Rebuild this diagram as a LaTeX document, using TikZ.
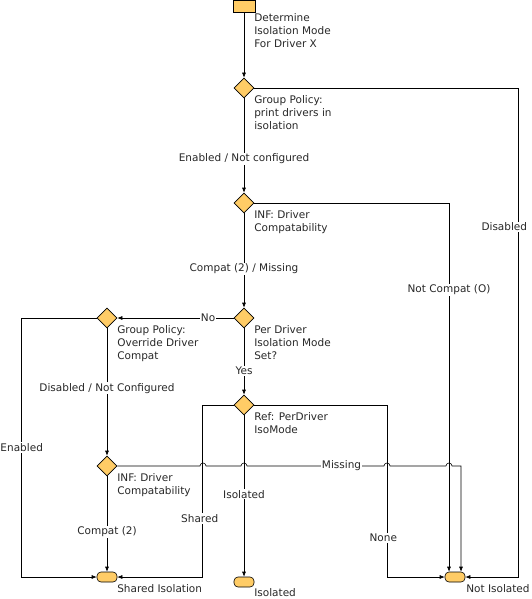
\documentclass[tikz,border=0pt]{standalone}
\usepackage{fontspec}
\setmainfont{DejaVu Sans}
\usetikzlibrary{shapes.geometric,arrows.meta,calc}
\definecolor{stepfill}{RGB}{255,204,102}
\definecolor{textgray}{RGB}{40,40,40}
\begin{document}
\begin{tikzpicture}
    [
        x=1pt, y=-1pt,
        every node/.style={font=\fontsize{10.5}{13}\selectfont, text=textgray},
        decision/.style={diamond, draw, fill=stepfill, minimum width=20pt, minimum height=20pt, inner sep=0pt},
        startbox/.style={rectangle, draw, fill=stepfill, minimum width=22pt, minimum height=12pt, inner sep=0pt},
        endbox/.style={rectangle, draw, fill=stepfill, rounded corners=4pt, minimum width=20pt, minimum height=10pt, inner sep=0pt},
        note/.style={anchor=north west, align=left, inner sep=0pt},
        lbl/.style={fill=white, inner sep=1pt},
        edge/.style={-{Latex[length=5pt,width=4pt]}, line width=0.6pt},
        line width=0.6pt,
    ]
    \useasboundingbox (0,0) rectangle (531,599);

    % steps
    \node (start) at (244,6)   [startbox] {};
    \node (d1) at (244,88)     [decision] {};
    \node (d2) at (244,203)    [decision] {};
    \node (d3) at (244,318)    [decision] {};
    \node (d4) at (244,405)    [decision] {};
    \node (gp) at (107,318)    [decision] {};
    \node (i2) at (107,466)    [decision] {};

    \node (si) at (107,577)    [endbox] {};
    \node (iso) at (244,582)   [endbox] {};
    \node (ni) at (455,577)    [endbox] {};

    % texts
    \node (t0) at (254,13)     [note] {Determine\\Isolation Mode\\For Driver X};
    \node (t1) at (254,95)     [note] {Group Policy:\\print drivers in\\isolation};
    \node (t2) at (254,210)    [note] {INF: Driver\\Compatability};
    \node (t3) at (254,325)    [note] {Per Driver\\Isolation Mode\\Set?};
    \node (t4) at (254,412)    [note] {Ref: PerDriver\\IsoMode};
    \node (t5) at (117,325)    [note] {Group Policy:\\Override Driver\\Compat};
    \node (t6) at (117,473)    [note] {INF: Driver\\Compatability};
    \node (t7) at (117,584)    [note] {Shared Isolation};
    \node (t8) at (254,588)    [note] {Isolated};
    \node (t9) at (466,584)    [note] {Not Isolated};

    % main line
    \draw [edge] (start) -- (d1);
    \draw [edge] (d1) -- (d2) node [lbl, pos=0.64] {Enabled / Not configured};
    \draw [edge] (d2) -- (d3) node [lbl, pos=0.59] {Compat (2) / Missing};
    \draw [edge] (d3) -- (gp) node [lbl, pos=0.22] {No};
    \draw [edge] (d3) -- (d4) node [lbl, pos=0.64] {Yes};
    \draw [edge] (gp) -- (i2) node [lbl, pos=0.47] {Disabled / Not Configured};
    \draw [edge] (i2) -- (si) node [lbl, pos=0.58] {Compat (2)};
    \draw [edge] (d4) -- (iso) node [lbl, pos=0.49] {Isolated};

    % side lines
    \draw [edge] (d1.east) -- ++(264,0) |- (ni.east) node [lbl, pos=0.142, xshift=-14pt] {Disabled};
    \draw [edge] (d2.east) -| ($(ni.north)+(-6,0)$) node [lbl, pos=0.618] {Not Compat (O)};
    \draw [edge] (gp.west) -- ++(-75,0) |- (si.west) node [lbl, pos=0.25] {Enabled};
    \draw [edge] (d4.west) -- ++(-31,0) |- (si.east) node [lbl, pos=0.33, xshift=-3pt] {Shared};
    \draw [edge] (d4.east) -- ++(133,0) |- (ni.west) node [lbl, pos=0.387, xshift=-4pt] {None};

    % missing line, hopping over the others
    \draw [edge] (i2.east) -- (200,466) arc (180:360:3) -- (241,466) arc (180:360:3)
        -- (384,466) node [lbl, pos=0.69] {Missing} arc (180:360:3)
        -- (446,466) arc (180:360:3) -- (461,466) -- ($(ni.north)+(6,0)$);

\end{tikzpicture}
\end{document}
